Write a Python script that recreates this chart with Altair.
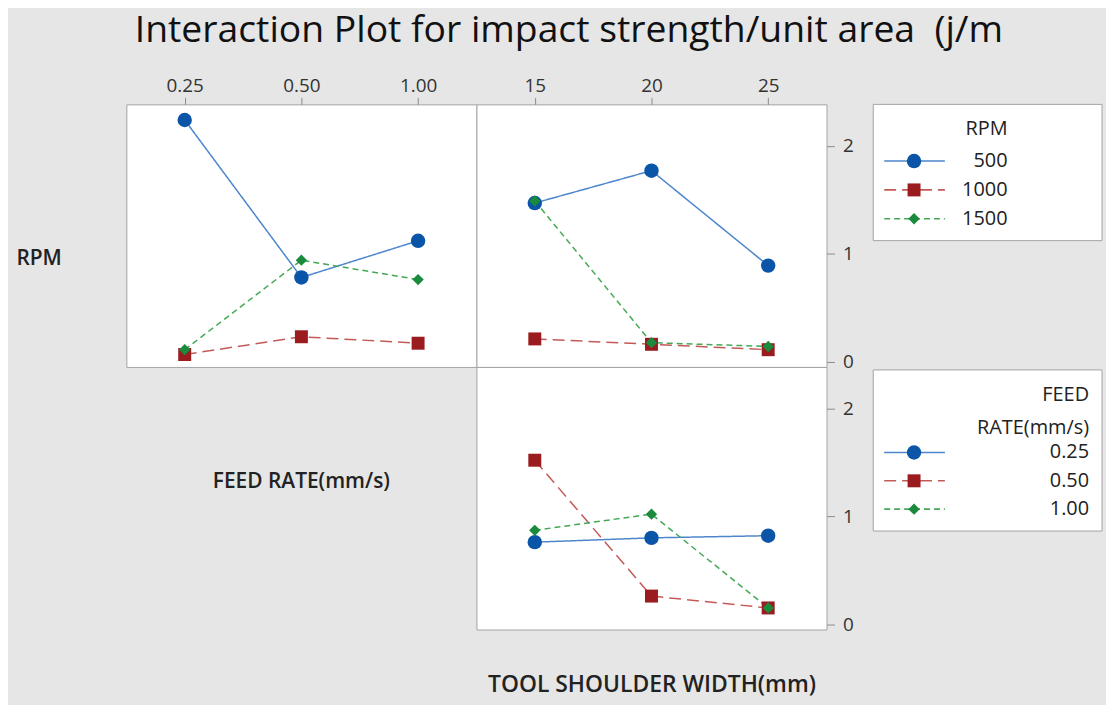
import altair as alt
import pandas as pd

# ---------------- data ----------------
feed_levels = ["0.25", "0.50", "1.00"]
width_levels = ["15", "20", "25"]
rpm_levels = ["500", "1000", "1500"]

# mean impact strength, RPM lines vs FEED RATE
rpm500_by_feed = [2.24, 0.78, 1.12]
rpm1000_by_feed = [0.065, 0.23, 0.17]
rpm1500_by_feed = [0.11, 0.94, 0.76]

# RPM lines vs TOOL SHOULDER WIDTH
rpm500_by_width = [1.47, 1.77, 0.89]
rpm1000_by_width = [0.21, 0.16, 0.11]
rpm1500_by_width = [1.49, 0.175, 0.14]

# FEED RATE lines vs TOOL SHOULDER WIDTH
feed025_by_width = [0.76, 0.80, 0.82]
feed050_by_width = [1.52, 0.26, 0.15]
feed100_by_width = [0.87, 1.02, 0.15]

y_ticks = [0, 1, 2]
title_text = "Interaction Plot for impact strength/unit area \u00a0(j/m"

# ---------------- styles ----------------
FONT = "Open Sans"
marker_colors = ["#0b55a8", "#9b1c1f", "#1a8a3c"]
line_colors = ["#4d86cc", "#c45a58", "#45a855"]
dashes = [[1, 0], [12, 6], [6, 4]]
shapes = ["circle", "square", "diamond"]
sizes = [210, 130, 220]
PW, PH = 352, 264
YDOM = [-0.05, 2.385]


def long_table(xlevels, series_levels, series_values, xname, sname):
    rows = []
    for s, vals in zip(series_levels, series_values):
        for xv, v in zip(xlevels, vals):
            rows.append({xname: xv, sname: s, "value": v})
    return pd.DataFrame(rows)


def enc_series(sname, levels):
    return dict(
        stroke=alt.Stroke(f"{sname}:N", scale=alt.Scale(domain=levels, range=line_colors), legend=None),
        strokeDash=alt.StrokeDash(f"{sname}:N", scale=alt.Scale(domain=levels, range=dashes), legend=None),
    )


def enc_points(sname, levels):
    return dict(
        fill=alt.Fill(f"{sname}:N", scale=alt.Scale(domain=levels, range=marker_colors), legend=None),
        shape=alt.Shape(f"{sname}:N", scale=alt.Scale(domain=levels, range=shapes), legend=None),
        size=alt.Size(f"{sname}:N", scale=alt.Scale(domain=levels, range=sizes), legend=None),
    )


def panel(df, xname, xlevels, sname, slevels, xaxis, yaxis):
    x = alt.X(f"{xname}:N", scale=alt.Scale(type="point", domain=xlevels, padding=0.5), axis=xaxis)
    y = alt.Y("value:Q", scale=alt.Scale(domain=YDOM, nice=False, zero=False), axis=yaxis)
    base = alt.Chart(df)
    lines = base.mark_line(strokeWidth=1.5).encode(x=x, y=y, detail=f"{sname}:N", **enc_series(sname, slevels))
    pts = base.mark_point(filled=True, opacity=1, strokeWidth=0).encode(x=x, y=y, **enc_points(sname, slevels))
    return alt.layer(lines, pts).properties(
        width=PW, height=PH,
        view=alt.ViewBackground(fill="white", stroke="#a3a3a3", strokeWidth=1),
    )


top_axis = alt.Axis(orient="top", title=None, labelAngle=0, tickSize=7, tickColor="#8c8c8c",
                    domain=False, grid=False, labelFontSize=19, labelColor="#333333",
                    labelFont=FONT, labelPadding=2)
right_axis = alt.Axis(orient="right", title=None, values=y_ticks, tickSize=8, tickColor="#8c8c8c",
                      domain=False, grid=False, labelFontSize=19, labelColor="#333333",
                      labelFont=FONT, labelPadding=8)
rpm_row_axis = alt.Axis(orient="left", title="RPM", labels=False, ticks=False, domain=False, grid=False,
                        titleAngle=0, titleAlign="left", titleBaseline="middle", titleX=-111, titleY=155,
                        titleFontSize=21, titleFont=FONT, titleFontWeight=600, titleColor="#222222")
tool_axis = alt.Axis(orient="bottom", title="TOOL SHOULDER WIDTH(mm)", labels=False, ticks=False,
                     domain=False, grid=False, titlePadding=44, titleFontSize=23, titleFont=FONT,
                     titleFontWeight=600, titleColor="#222222")

df1 = long_table(feed_levels, rpm_levels, [rpm500_by_feed, rpm1000_by_feed, rpm1500_by_feed], "FEED", "RPM")
df2 = long_table(width_levels, rpm_levels, [rpm500_by_width, rpm1000_by_width, rpm1500_by_width], "WIDTH", "RPM")
df3 = long_table(width_levels, feed_levels, [feed025_by_width, feed050_by_width, feed100_by_width], "WIDTH", "FEEDRATE")

p1 = panel(df1, "FEED", feed_levels, "RPM", rpm_levels, top_axis, rpm_row_axis)
p2 = panel(df2, "WIDTH", width_levels, "RPM", rpm_levels, top_axis, right_axis)
p3 = panel(df3, "WIDTH", width_levels, "FEEDRATE", feed_levels, tool_axis, right_axis)

# empty diagonal cell with the variable name
blank = alt.Chart(pd.DataFrame({"label": ["FEED RATE(mm/s)"]})).mark_text(
    font=FONT, fontSize=21, fontWeight=600, color="#222222", align="center", baseline="middle"
).encode(x=alt.value(176), y=alt.value(116), text="label:N").properties(
    width=PW, height=PH, view=alt.ViewBackground(fill="transparent", stroke="transparent"))


def legend_panel(sname, levels, title_lines, title_ys, item_range, box, text_x):
    ldf = pd.DataFrame({sname: levels})
    y = alt.Y(f"{sname}:N", scale=alt.Scale(type="point", domain=levels, range=item_range, padding=0),
              axis=None)
    frame = alt.Chart(pd.DataFrame({"k": [0]})).mark_rect(fill="white", stroke="#a3a3a3", strokeWidth=1).encode(
        x=alt.value(box[0]), x2=alt.value(box[1]), y=alt.value(box[2]), y2=alt.value(box[3]))
    seg = alt.Chart(ldf).mark_rule(strokeWidth=1.6).encode(
        x=alt.value(58), x2=alt.value(119), y=y, **enc_series(sname, levels))
    pts = alt.Chart(ldf).mark_point(filled=True, opacity=1, strokeWidth=0).encode(
        x=alt.value(88), y=y, **enc_points(sname, levels))
    labels = alt.Chart(ldf).mark_text(font=FONT, fontSize=20, color="#222222", align="right",
                                      baseline="middle").encode(x=alt.value(text_x), y=y, text=f"{sname}:N")
    layers = [frame, seg, pts, labels]
    for t, ty in zip(title_lines, title_ys):
        layers.append(alt.Chart(pd.DataFrame({"t": [t]})).mark_text(
            font=FONT, fontSize=20, color="#222222", align="right", baseline="middle"
        ).encode(x=alt.value(text_x), y=alt.value(ty), text="t:N"))
    return alt.layer(*layers).properties(
        width=280, height=PH, view=alt.ViewBackground(fill="transparent", stroke="transparent"))


leg1 = legend_panel("RPM", rpm_levels, ["RPM"], [25], [57, 115], (47, 277, 0, 137), 182)
leg2 = legend_panel("FEEDRATE", feed_levels, ["FEED", "RATE(mm/s)"], [28, 61], [86, 143], (47, 277, 3, 165), 264)

chart = alt.concat(p1, p2, leg1, blank, p3, leg2, columns=3, spacing=0).properties(
    bounds="flush",
    title=alt.TitleParams(title_text, font=FONT, fontSize=37.5, fontWeight="normal", color="#111111",
                          anchor="start", dx=120, offset=27),
    background="#e6e6e6",
    padding={"left": 7, "top": 2, "right": 0, "bottom": 6},
).resolve_scale(
    x="independent", y="independent", stroke="independent", fill="independent",
    shape="independent", size="independent", strokeDash="independent"
).configure_view(continuousWidth=PW, continuousHeight=PH)

chart.save("out.html", embed_options={"renderer": "svg", "actions": False})
